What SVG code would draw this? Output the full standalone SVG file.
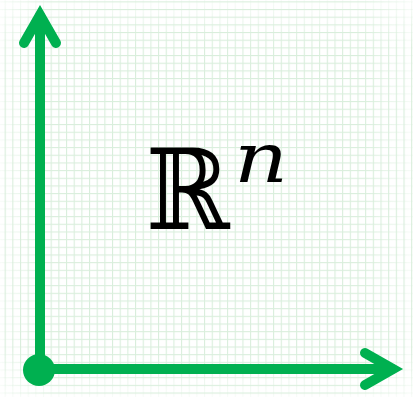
<svg xmlns="http://www.w3.org/2000/svg" width="413" height="397" viewBox="0 0 413 397">
  <style>
    .axis { fill: none; stroke: #00b050; stroke-width: 10; stroke-linecap: round; stroke-linejoin: miter; stroke-miterlimit: 10; }
    .label { font-family: "DejaVu Serif", "Liberation Serif", serif; fill: #000; }
  </style>
  <defs>
    <pattern id="gridV" patternUnits="userSpaceOnUse" x="4.64" y="0" width="7.67" height="7.67">
      <rect x="0" y="0" width="1.1" height="7.67" fill="#d9eedc"/>
    </pattern>
    <pattern id="gridH" patternUnits="userSpaceOnUse" x="0" y="1.34" width="7.67" height="7.67">
      <rect x="0" y="0" width="7.67" height="1.1" fill="#d9eedc"/>
    </pattern>
    <linearGradient id="fadeX" x1="0" y1="0" x2="1" y2="0">
      <stop offset="0" stop-color="#fff" stop-opacity="0.2"/>
      <stop offset="0.12" stop-color="#fff" stop-opacity="1"/>
      <stop offset="0.88" stop-color="#fff" stop-opacity="1"/>
      <stop offset="1" stop-color="#fff" stop-opacity="0.2"/>
    </linearGradient>
    <linearGradient id="fadeY" x1="0" y1="0" x2="0" y2="1">
      <stop offset="0" stop-color="#fff" stop-opacity="0.2"/>
      <stop offset="0.12" stop-color="#fff" stop-opacity="1"/>
      <stop offset="0.88" stop-color="#fff" stop-opacity="1"/>
      <stop offset="1" stop-color="#fff" stop-opacity="0.2"/>
    </linearGradient>
    <mask id="fadeMaskX"><rect width="413" height="397" fill="url(#fadeX)"/></mask>
    <mask id="fadeMaskY"><rect width="413" height="397" fill="url(#fadeY)"/></mask>
  </defs>
  <rect width="413" height="397" fill="#ffffff"/>
  <g id="grid">
    <g mask="url(#fadeMaskY)">
      <rect width="413" height="397" fill="url(#gridV)"/>
    </g>
    <g mask="url(#fadeMaskX)">
      <rect width="413" height="397" fill="url(#gridH)"/>
    </g>
  </g>
  <g id="connectors">
    <line class="axis" x1="40" y1="369" x2="40" y2="16"/>
    <polyline class="axis" points="24,43 40,15 56,43"/>
    <line class="axis" x1="40" y1="369" x2="392" y2="369"/>
    <polyline class="axis" points="365,353 393,369 365,385"/>
  </g>
  <g id="origin">
    <circle cx="39" cy="370" r="16" fill="#00b050"/>
  </g>
  <g id="label">
    <text class="label" font-size="112" transform="translate(146,229) scale(0.9,1)">ℝ</text>
    <text class="label" font-size="70" font-style="italic" transform="translate(234,182) scale(1.2,1)">n</text>
  </g>
</svg>
